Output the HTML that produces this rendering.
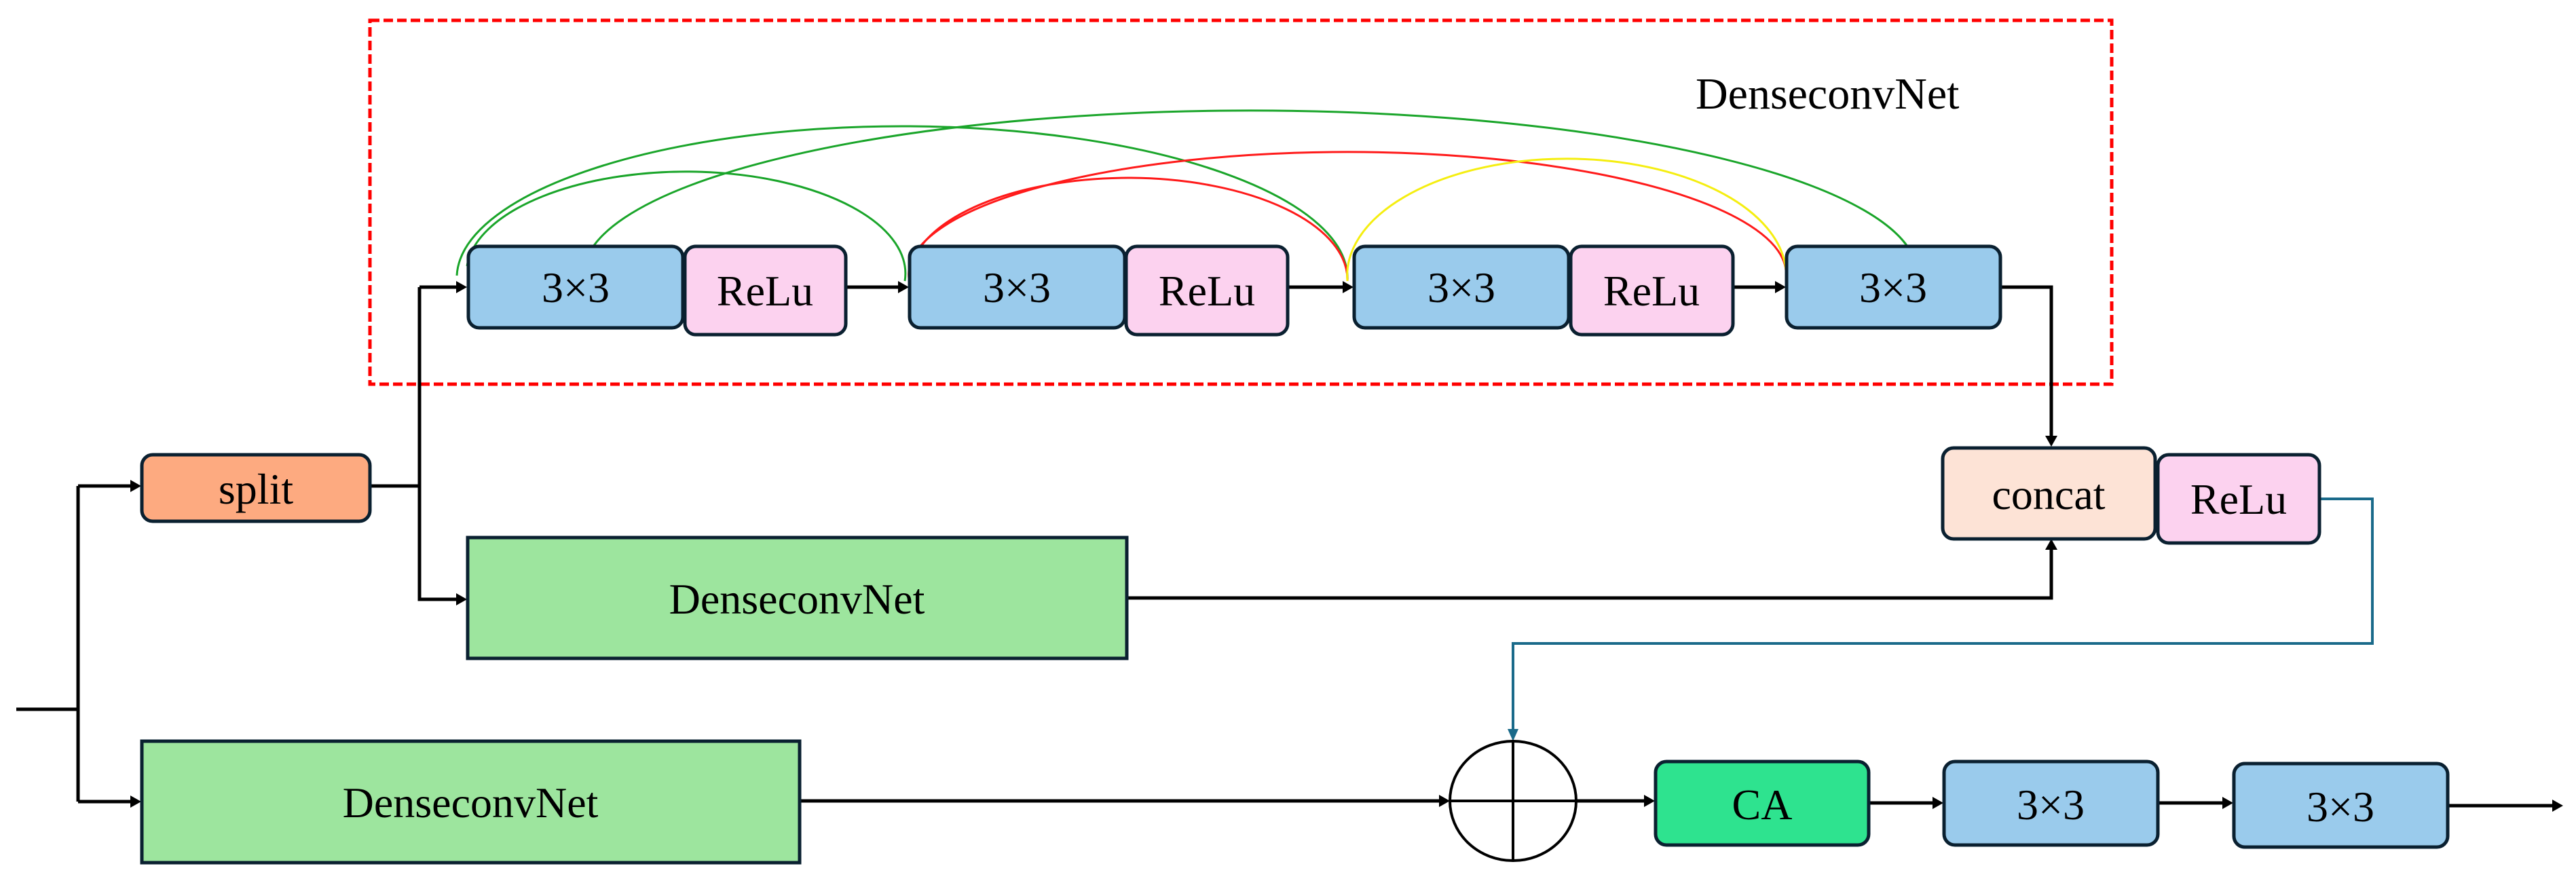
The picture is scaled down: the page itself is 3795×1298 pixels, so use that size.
<!DOCTYPE html>
<html><head><meta charset="utf-8"><style>
html,body{margin:0;padding:0;background:#fff;}
svg{display:block;}
text{font-family:"Liberation Serif",serif;fill:#000;}
</style></head><body>
<svg width="3795" height="1298" viewBox="0 0 3795 1298" xmlns="http://www.w3.org/2000/svg">
<!-- red dashed box -->
<rect x="545" y="30" width="2566" height="536" fill="none" stroke="#ff0000" stroke-width="5" stroke-dasharray="14,6"/>
<text x="2498" y="160" font-size="66">DenseconvNet</text>

<!-- arcs -->
<g fill="none" stroke-width="3">
<path d="M860 410 A982 241 0 0 1 2824 398" stroke="#1aa52a"/>
<path d="M673 406 A656 224 0 0 1 1985 414" stroke="#1aa52a"/>
<path d="M688 392 A323 150 0 0 1 1333 414" stroke="#1aa52a"/>
<path d="M1339 410 A646 180 0 0 1 2631 398" stroke="#ff1a1a"/>
<path d="M1339 410 A323 150 0 0 1 1985 414" stroke="#ff1a1a"/>
<path d="M1985 414 A323 172 0 0 1 2631 398" stroke="#f5ee10"/>
</g>

<!-- connectors black -->
<g fill="none" stroke="#000" stroke-width="5">
<path d="M24 1045 H115 M115 716 V1181 M115 716 H200 M115 1181 H200"/>
<path d="M545 716 H618 M618 423 V883 H680 M618 423 H680"/>
<path d="M1246 423 H1330 M1897 423 H1985 M2553 423 H2622"/>
<path d="M2947 423 H3022 V650"/>
<path d="M1660 881 H3022 V804"/>
<path d="M1178 1180 H2128"/>
<path d="M2323 1180 H2430 M2753 1183 H2855 M3179 1183 H3282 M3606 1187 H3768"/>
</g>
<g fill="#000">
<polygon points="208,716 192,707 192,725"/>
<polygon points="208,1181 192,1172 192,1190"/>
<polygon points="688,423 672,414 672,432"/>
<polygon points="688,883 672,874 672,892"/>
<polygon points="1339,423 1323,414 1323,432"/>
<polygon points="1994,423 1978,414 1978,432"/>
<polygon points="2631,423 2615,414 2615,432"/>
<polygon points="3022,658 3013,642 3031,642"/>
<polygon points="3022,794 3013,810 3031,810"/>
<polygon points="2136,1180 2120,1171 2120,1189"/>
<polygon points="2438,1180 2422,1171 2422,1189"/>
<polygon points="2863,1183 2847,1174 2847,1192"/>
<polygon points="3290,1183 3274,1174 3274,1192"/>
<polygon points="3776,1187 3760,1178 3760,1196"/>
</g>
<!-- teal connector -->
<path d="M3417 735 H3495 V948 H2229 V1080" fill="none" stroke="#1a6a8a" stroke-width="4"/>
<polygon points="2229,1092 2221,1074 2237,1074" fill="#1a6a8a"/>

<!-- sum circle -->
<ellipse cx="2229" cy="1180" rx="93" ry="88" fill="#fff" stroke="#000" stroke-width="4"/>
<path d="M2229 1092 V1268 M2136 1180 H2322" stroke="#000" stroke-width="4"/>

<!-- boxes -->
<g stroke="#0a2030" stroke-width="5">
<rect x="690" y="363" width="316" height="120" rx="16" fill="#9acbec"/>
<rect x="1009" y="363" width="237" height="130" rx="16" fill="#fcd2ef"/>
<rect x="1340" y="363" width="317" height="120" rx="16" fill="#9acbec"/>
<rect x="1659" y="363" width="238" height="130" rx="16" fill="#fcd2ef"/>
<rect x="1995" y="363" width="316" height="120" rx="16" fill="#9acbec"/>
<rect x="2314" y="363" width="239" height="130" rx="16" fill="#fcd2ef"/>
<rect x="2632" y="363" width="315" height="120" rx="16" fill="#9acbec"/>
<rect x="209" y="670" width="336" height="98" rx="16" fill="#fdaa80"/>
<rect x="689" y="792" width="971" height="178" fill="#9de59e"/>
<rect x="209" y="1092" width="969" height="179" fill="#9de59e"/>
<rect x="2862" y="660" width="313" height="134" rx="16" fill="#fde3d6"/>
<rect x="3179" y="670" width="238" height="130" rx="16" fill="#fcd2ef"/>
<rect x="2439" y="1122" width="314" height="123" rx="16" fill="#2ee38f"/>
<rect x="2864" y="1122" width="315" height="123" rx="16" fill="#9acbec"/>
<rect x="3291" y="1125" width="315" height="123" rx="16" fill="#9acbec"/>
</g>
<g font-size="64" text-anchor="middle">
<text x="848" y="445">3×3</text>
<text x="1127" y="450">ReLu</text>
<text x="1498" y="445">3×3</text>
<text x="1778" y="450">ReLu</text>
<text x="2153" y="445">3×3</text>
<text x="2433" y="450">ReLu</text>
<text x="2789" y="445">3×3</text>
<text x="377" y="742">split</text>
<text x="1174" y="904">DenseconvNet</text>
<text x="693" y="1204">DenseconvNet</text>
<text x="3018" y="750">concat</text>
<text x="3298" y="757">ReLu</text>
<text x="2596" y="1207">CA</text>
<text x="3021" y="1207">3×3</text>
<text x="3448" y="1210">3×3</text>
</g>
</svg>
</body></html>
